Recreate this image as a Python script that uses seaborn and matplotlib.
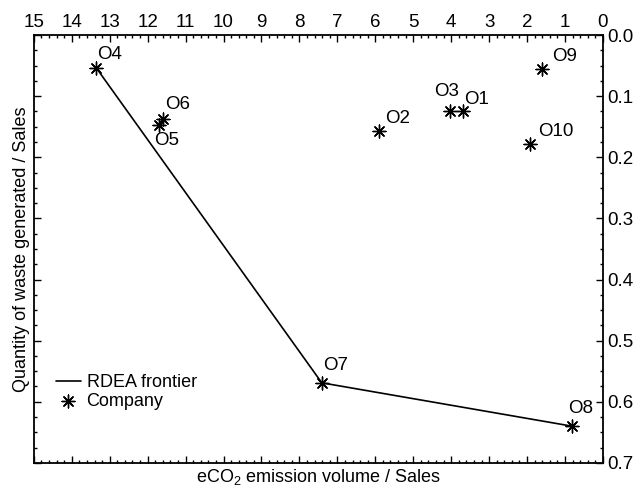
import matplotlib
matplotlib.use("Agg")
import matplotlib.pyplot as plt
import seaborn as sns
import pandas as pd
from matplotlib.ticker import MultipleLocator, FormatStrFormatter

# Company data
companies = ["O1", "O2", "O3", "O4", "O5", "O6", "O7", "O8", "O9", "O10"]
eco2 = [3.69, 5.89, 4.04, 13.35, 11.69, 11.59, 7.41, 0.81, 1.60, 1.91]
waste = [0.124, 0.157, 0.124, 0.054, 0.147, 0.138, 0.569, 0.640, 0.056, 0.178]

# RDEA frontier passes through these companies
frontier = ["O4", "O7", "O8"]

df = pd.DataFrame({"company": companies, "eco2": eco2, "waste": waste})
front_df = df.set_index("company").loc[frontier].reset_index()

# label offsets in pixels (dx, dy, ha, va)
label_pos = {
    "O1": (1, 3, "left", "bottom"),
    "O2": (6, 4, "left", "bottom"),
    "O3": (-3, 11, "center", "bottom"),
    "O4": (1, 5, "left", "bottom"),
    "O5": (-5, -7, "left", "top"),
    "O6": (2, 6, "left", "bottom"),
    "O7": (1, 9, "left", "bottom"),
    "O8": (-4, 9, "left", "bottom"),
    "O9": (10, 4, "left", "bottom"),
    "O10": (8, 4, "left", "bottom"),
}

sns.set_style("white")
plt.rcParams["font.family"] = ["Liberation Sans", "DejaVu Sans"]
plt.rcParams["mathtext.default"] = "regular"
plt.rcParams["text.color"] = "black"
plt.rcParams["axes.labelcolor"] = "black"

fig = plt.figure(figsize=(6.38, 4.94), dpi=100)
ax = fig.add_axes([0.053, 0.063, 0.892, 0.866])

sns.lineplot(data=front_df, x="eco2", y="waste", color="black", linewidth=1.2,
             sort=False, label="RDEA frontier", ax=ax)
sns.scatterplot(data=df, x="eco2", y="waste", marker=(8, 2, 0), s=85,
                color="black", edgecolor="black", linewidth=1.0,
                label="Company", ax=ax, zorder=3)

for name, x, y in zip(companies, eco2, waste):
    dx, dy, ha, va = label_pos[name]
    ax.annotate(name, xy=(x, y), xytext=(dx * 0.72, dy * 0.72),
                textcoords="offset points", ha=ha, va=va, fontsize=13.5)

ax.set_xlim(15, 0)
ax.set_ylim(0.7, 0.0)
ax.xaxis.set_major_locator(MultipleLocator(1))
ax.xaxis.set_minor_locator(MultipleLocator(0.2))
ax.yaxis.set_major_locator(MultipleLocator(0.1))
ax.yaxis.set_minor_locator(MultipleLocator(0.025))
ax.yaxis.set_major_formatter(FormatStrFormatter("%.1f"))

ax.tick_params(which="both", direction="in", top=True, bottom=True, left=True, right=True,
               labeltop=True, labelbottom=False, labelleft=False, labelright=True,
               colors="black", labelsize=13.5, width=1.0)
ax.tick_params(which="major", length=5, pad=3)
ax.tick_params(which="minor", length=2.5)

for sp in ax.spines.values():
    sp.set_color("black")
    sp.set_linewidth(1.3)

ax.set_xlabel(r"eCO$_2$ emission volume / Sales", fontsize=13, labelpad=3)
ax.set_ylabel("Quantity of waste generated / Sales", fontsize=13, labelpad=3)
ax.xaxis.set_label_position("bottom")
ax.yaxis.set_label_position("left")

ax.legend(loc="upper left", bbox_to_anchor=(0.026, 0.225), frameon=False,
          fontsize=13, handlelength=1.4, handletextpad=0.3, labelspacing=0.1,
          borderaxespad=0)

fig.savefig("out.png", dpi=100)
